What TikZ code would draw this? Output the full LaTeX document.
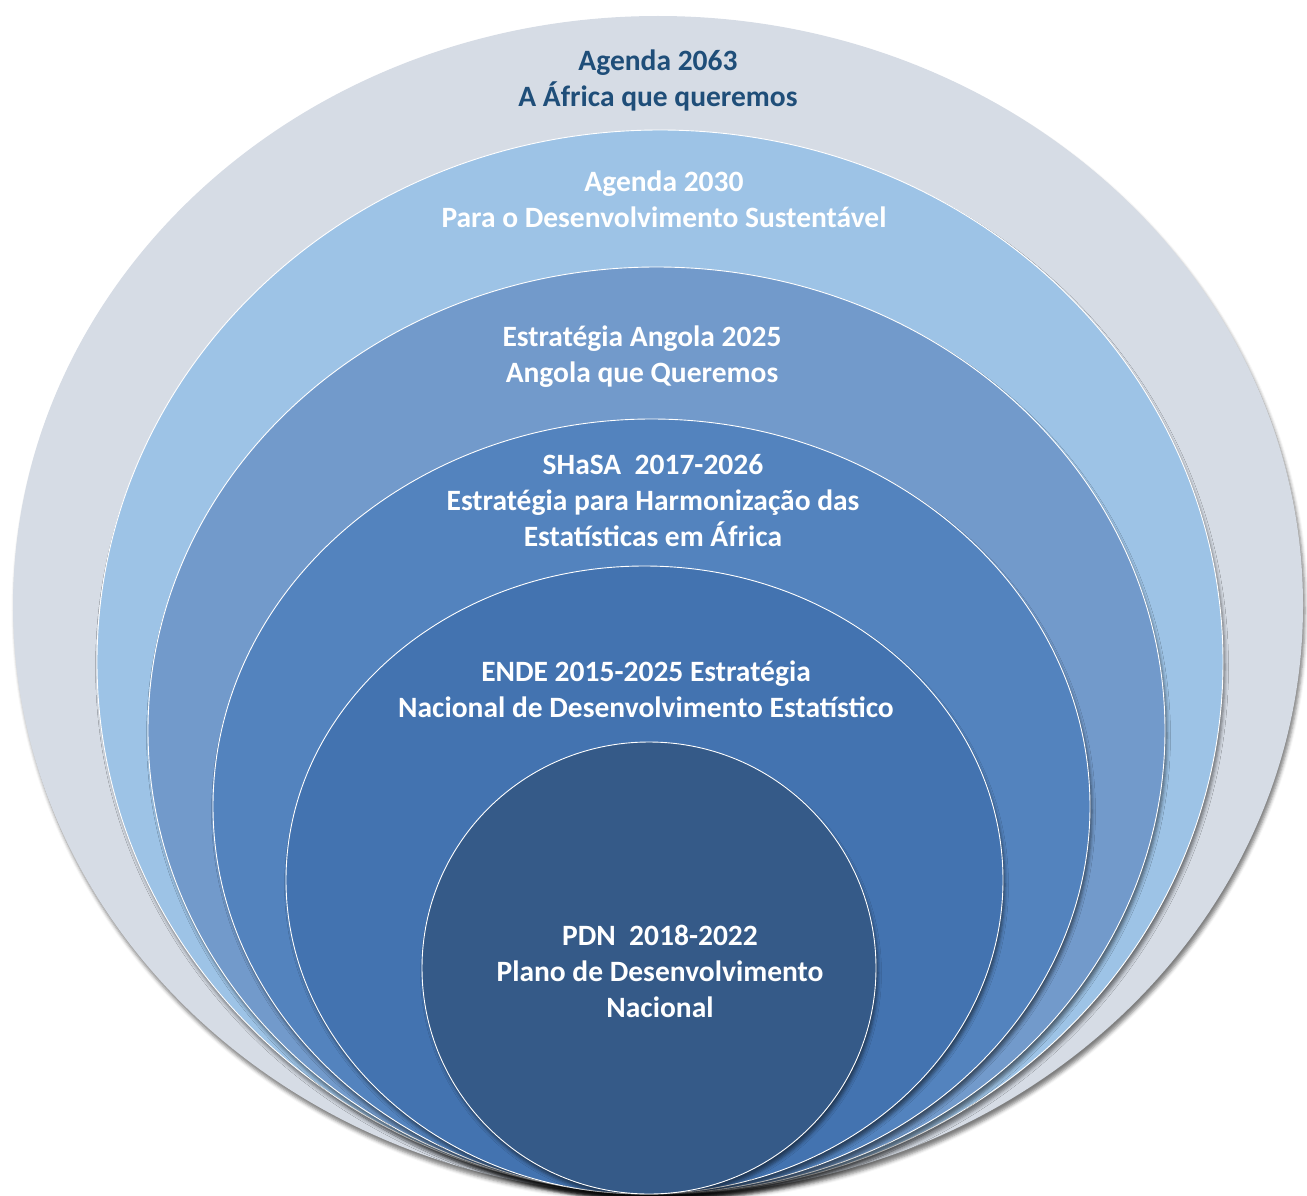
\documentclass[tikz,border=0pt]{standalone}
\usepackage{fontspec}
\setmainfont{Carlito}
\usetikzlibrary{shadows.blur}
\definecolor{cGray}{HTML}{D6DCE5}
\definecolor{cSky}{HTML}{9DC3E6}
\definecolor{cMid}{HTML}{729ACB}
\definecolor{cBlue}{HTML}{5383BE}
\definecolor{cDeep}{HTML}{4373B0}
\definecolor{cNavy}{HTML}{355A88}
\definecolor{cText}{HTML}{1F4E79}
\begin{document}
\begin{tikzpicture}[x=1pt,y=-1pt,
  shade/.style={blur shadow={shadow xshift=2pt, shadow yshift=-5pt, shadow blur radius=3.5pt, shadow opacity=50}},
  ring/.style={draw=white, line width=0.9pt, shade},
  lbl/.style={font=\bfseries\fontsize{29.5}{36}\selectfont, text=white, align=center, inner sep=0pt}]
\useasboundingbox (0,0) rectangle (1307,1196);
% nested ellipses
\path[fill=cGray, shade] (658,605.5) ellipse [x radius=645pt, y radius=589.5pt];
\path[fill=cSky, ring] (660,662) ellipse [x radius=563pt, y radius=532pt];
\path[fill=cMid, ring] (656.5,730.5) ellipse [x radius=508.5pt, y radius=463.5pt];
\path[fill=cBlue, ring] (651.5,806.5) ellipse [x radius=438.5pt, y radius=387.5pt];
\path[fill=cDeep, ring] (644.5,880) ellipse [x radius=358.5pt, y radius=314pt];
\path[fill=cNavy, ring] (649,968) ellipse [x radius=227pt, y radius=226pt];
% labels
\node[lbl, text=cText] (t1) at (658,80) {Agenda 2063\\A África que queremos};
\node[lbl] (t2) at (664,199.5) {Agenda 2030\\Para o Desenvolvimento Sustentável};
\node[lbl] (t3) at (642,357) {Estratégia Angola 2025\\Angola que Queremos};
\node[lbl] (t4) at (653,501) {SHaSA\ \ 2017-2026\\Estratégia para Harmonização das\\Estatísticas em África};
\node[lbl] (t5) at (646,689) {ENDE 2015-2025 Estratégia\\Nacional de Desenvolvimento Estatístico};
\node[lbl] (t6) at (660,971) {PDN\ \ 2018-2022\\Plano de Desenvolvimento\\Nacional};
\end{tikzpicture}
\end{document}
